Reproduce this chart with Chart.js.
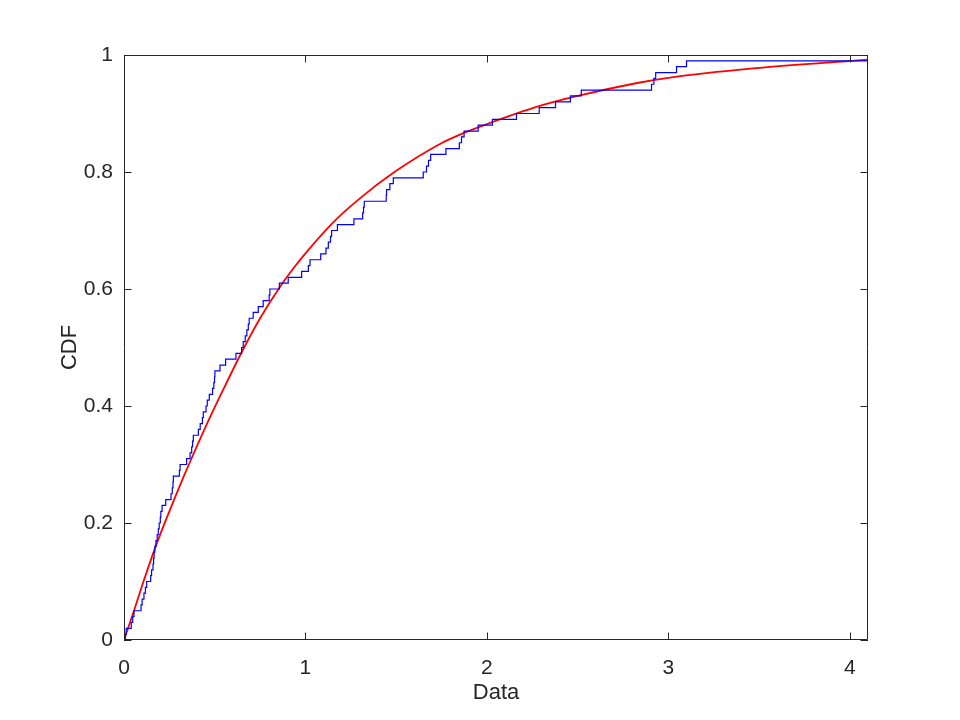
<!DOCTYPE html>
<html>
<head>
<meta charset="utf-8">
<script src="https://cdn.jsdelivr.net/npm/chart.js@4.4.1/dist/chart.umd.min.js"></script>
<style>
  html, body { margin: 0; padding: 0; background: #fff; }
  #wrap { width: 960px; height: 720px; }
</style>
</head>
<body>
<div id="wrap"><canvas id="cdfChart"></canvas></div>
<script>
// sorted sample values (one step = 0.01)
var sampleValues = [
  0.008, 0.012, 0.040, 0.048, 0.055, 0.094, 0.100, 0.110, 0.118, 0.125,
  0.147, 0.152, 0.160, 0.163, 0.166, 0.170, 0.176, 0.183, 0.189, 0.194,
  0.200, 0.203, 0.210, 0.230, 0.259, 0.266, 0.270, 0.272, 0.305, 0.309,
  0.345, 0.364, 0.373, 0.378, 0.382, 0.410, 0.420, 0.432, 0.437, 0.452,
  0.459, 0.470, 0.488, 0.495, 0.499, 0.501, 0.529, 0.560, 0.617, 0.648,
  0.657, 0.668, 0.677, 0.685, 0.690, 0.712, 0.740, 0.767, 0.800, 0.804,
  0.856, 0.905, 0.979, 1.016, 1.025, 1.084, 1.113, 1.126, 1.138, 1.144,
  1.176, 1.267, 1.315, 1.320, 1.324, 1.445, 1.447, 1.465, 1.484, 1.649,
  1.667, 1.678, 1.690, 1.774, 1.848, 1.860, 1.874, 1.952, 2.030, 2.163,
  2.288, 2.378, 2.460, 2.520, 2.907, 2.920, 2.930, 3.045, 3.100, 4.100
];

// fitted CDF curve
var fitX = [0, 0.055, 0.1, 0.171, 0.25, 0.327, 0.366, 0.464, 0.55, 0.657, 0.75,
            0.86, 0.933, 1.0, 1.153, 1.3, 1.5, 1.741, 1.851, 2.0, 2.292, 2.5,
            2.843, 3.0, 3.467, 4.1];
var fitY = [0, 0.050, 0.093, 0.157, 0.220, 0.278, 0.306, 0.374, 0.430, 0.497, 0.550,
            0.604, 0.635, 0.661, 0.714, 0.755, 0.802, 0.848, 0.864, 0.882, 0.913, 0.930,
            0.953, 0.961, 0.977, 0.992];

var xTicks = [0, 1, 2, 3, 4];
var yTicks = [0, 0.2, 0.4, 0.6, 0.8, 1];

var axisColor = '#262626';
var fontFamily = '"Liberation Sans", Arial, Helvetica, sans-serif';

// empirical cdf points
var ecdfPoints = [{ x: sampleValues[0], y: 0 }];
for (var i = 0; i < sampleValues.length; i++) {
    ecdfPoints.push({ x: sampleValues[i], y: (i + 1) / sampleValues.length });
}

var fitPoints = fitX.map(function(v, i) { return { x: v, y: fitY[i] }; });

// frame with inward tick marks, matlab style
var framePlugin = {
    id: 'frame',
    afterDatasetsDraw: function(chart) {
        var ctx = chart.ctx;
        var a = chart.chartArea;
        var xs = chart.scales.x, ys = chart.scales.y;
        var len = 7.5;
        ctx.save();
        ctx.strokeStyle = axisColor;
        ctx.lineWidth = 1;
        ctx.beginPath();
        ctx.rect(a.left + 0.5, a.top + 0.5, a.right - a.left - 1, a.bottom - a.top - 1);
        xTicks.forEach(function(t) {
            var px = Math.round(xs.getPixelForValue(t)) + 0.5;
            ctx.moveTo(px, a.bottom); ctx.lineTo(px, a.bottom - len);
            ctx.moveTo(px, a.top); ctx.lineTo(px, a.top + len);
        });
        yTicks.forEach(function(t) {
            var py = Math.round(ys.getPixelForValue(t)) + 0.5;
            ctx.moveTo(a.left, py); ctx.lineTo(a.left + len, py);
            ctx.moveTo(a.right, py); ctx.lineTo(a.right - len, py);
        });
        ctx.stroke();
        ctx.restore();
    }
};

var ctx = document.getElementById('cdfChart').getContext('2d');
var chart = new Chart(ctx, {
    type: 'scatter',
    data: {
        datasets: [{
            label: 'Empirical CDF',
            data: ecdfPoints,
            showLine: true,
            stepped: 'before',
            borderColor: '#0000ff',
            borderWidth: 1.2,
            pointRadius: 0,
            fill: false
        }, {
            label: 'Fitted CDF',
            data: fitPoints,
            showLine: true,
            cubicInterpolationMode: 'monotone',
            borderColor: '#ff0000',
            borderWidth: 1.8,
            pointRadius: 0,
            fill: false
        }]
    },
    options: {
        responsive: true,
        maintainAspectRatio: false,
        animation: false,
        layout: { padding: { left: 0, right: 92, top: 55, bottom: 0 } },
        plugins: {
            legend: { display: false },
            tooltip: { enabled: false }
        },
        scales: {
            x: {
                type: 'linear',
                min: 0,
                max: 4.1,
                afterFit: function(scale) { scale.height = 80; },
                grid: { display: false, drawTicks: false },
                border: { display: false },
                ticks: {
                    stepSize: 1,
                    includeBounds: false,
                    padding: 16,
                    color: axisColor,
                    font: { family: fontFamily, size: 21 }
                },
                title: {
                    display: true,
                    text: 'Data',
                    color: axisColor,
                    font: { family: fontFamily, size: 22 },
                    padding: { top: 0, bottom: 14 }
                }
            },
            y: {
                type: 'linear',
                min: 0,
                max: 1,
                afterFit: function(scale) { scale.width = 124; },
                grid: { display: false, drawTicks: false },
                border: { display: false },
                ticks: {
                    stepSize: 0.2,
                    padding: 11,
                    color: axisColor,
                    font: { family: fontFamily, size: 21 },
                    callback: function(value) { return String(+value.toFixed(1)); }
                },
                title: {
                    display: true,
                    text: 'CDF',
                    color: axisColor,
                    font: { family: fontFamily, size: 22 },
                    padding: { top: 57, bottom: 0 }
                }
            }
        }
    },
    plugins: [framePlugin]
});
</script>
</body>
</html>
